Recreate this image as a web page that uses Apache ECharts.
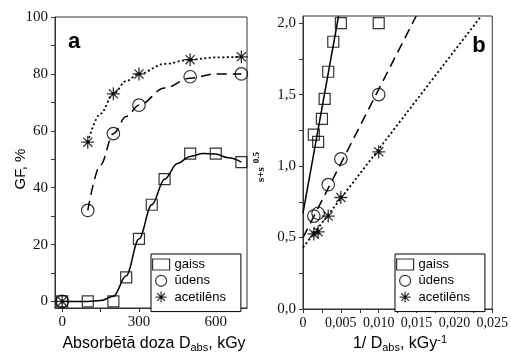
<!DOCTYPE html>
<html>
<head>
<meta charset="utf-8">
<script src="https://cdn.jsdelivr.net/npm/echarts@6/dist/echarts.min.js"></script>
<style>
html,body{margin:0;padding:0;background:#fff;}
#chart{width:511px;height:356px;}
</style>
</head>
<body>
<div id="chart"></div>
<script>
// ---- Panel a: GF vs absorbed dose ----
const seriesNames = ['gaiss', 'ūdens', 'acetilēns'];
const gaissDose = [0, 100, 200, 250, 300, 350, 400, 500, 600, 700];
const gaissGF = [0, 0, 0, 8.5, 22, 34, 43, 52, 52, 49];
const dose = [0, 100, 200, 300, 500, 700];
const udensGF = [0, 32, 59, 69, 79, 80];
const acetGF = [0, 56, 73, 80, 85, 86];
// fitted curves
const gaissCurveX = [0, 100, 150, 200, 250, 300, 350, 400, 450, 500, 550, 600, 650, 700];
const gaissCurveY = [0, 0, 0.3, 1.8, 9, 22, 34, 43, 48.5, 51, 52, 51.8, 50.5, 49];
const udensCurveX = [100, 150, 200, 250, 300, 400, 500, 600, 700];
const udensCurveY = [32, 48, 59, 65, 69, 75, 78.5, 80, 80];
const acetCurveX = [100, 150, 200, 250, 300, 400, 500, 600, 700];
const acetCurveY = [56, 66, 73, 77.5, 80, 83.5, 85, 85.8, 86];
const leftXTicks = [0, 150, 300, 450, 600];
const leftXLabels = [0, 300, 600];
const leftYTicks = [0, 10, 20, 30, 40, 50, 60, 70, 80, 90, 100];
const leftYLabels = [0, 20, 40, 60, 80, 100];

// ---- Panel b: s+s^0.5 vs 1/D ----
const invGaissX = [0.00143, 0.002, 0.0025, 0.00286, 0.00333, 0.004, 0.005, 0.01];
const invGaissY = [1.22, 1.17, 1.33, 1.47, 1.66, 1.87, 2.0, 2.0];
const invDoseX = [0.00143, 0.002, 0.00333, 0.005, 0.01];
const invUdensY = [0.65, 0.67, 0.87, 1.05, 1.50];
const invAcetY = [0.525, 0.54, 0.65, 0.78, 1.10];
const gaissLineX = [0, 0.0047];
const gaissLineY = [0.67, 2.05];
const udensLineX = [0, 0.01495];
const udensLineY = [0.5, 2.05];
const acetLineX = [0, 0.0234];
const acetLineY = [0.43, 2.04];
const rightXTicks = [0, 0.0025, 0.005, 0.0075, 0.01, 0.0125, 0.015, 0.0175, 0.02, 0.0225, 0.025];
const rightXLabels = [0, 0.005, 0.01, 0.015, 0.02, 0.025];
const rightYTicks = [0, 0.25, 0.5, 0.75, 1.0, 1.25, 1.5, 1.75, 2.0];
const rightYLabels = [0, 0.5, 1.0, 1.5, 2.0];

const zip = (xs, ys) => xs.map((x, i) => [x, ys[i]]);
const AST = 'path://M5,0L5,10M0,5L10,5M1.5,1.5L8.5,8.5M1.5,8.5L8.5,1.5M4,4L6,4L6,6L4,6Z';
const SER = 'Liberation Serif, Times New Roman, serif';
const SANS = 'Liberation Sans, Arial, sans-serif';
const AX = '#333';
const hollow = {color: 'rgba(0,0,0,0)', borderColor: '#000', borderWidth: 1.2};
const star = {color: '#000', borderColor: '#000', borderWidth: 1.3};

function axisCommon(min, max, ticks, labels, fmt, fs) {
  return {
    type: 'value', min: min, max: max,
    axisLine: {show: true, onZero: false, lineStyle: {color: AX, width: 1}},
    axisTick: {show: true, length: 4, customValues: ticks, lineStyle: {color: AX}},
    axisLabel: {customValues: labels, formatter: fmt, color: '#111', fontFamily: SER, fontSize: fs || 15, margin: 7},
    splitLine: {show: false}
  };
}

function scatter(name, xi, yi, data, symbol, size, style) {
  return {name: name, type: 'scatter', xAxisIndex: xi, yAxisIndex: yi, data: data,
    symbol: symbol, symbolSize: size, itemStyle: style, z: 5};
}
function line(name, xi, yi, data, type, smooth, w) {
  return {name: name, type: 'line', xAxisIndex: xi, yAxisIndex: yi, data: data,
    showSymbol: false, symbol: 'none', smooth: smooth, smoothMonotone: 'x',
    lineStyle: {color: '#000', width: w || 1.5, type: type}, z: 3, clip: true};
}

function legend(left) {
  return {
    left: left, top: 254, orient: 'vertical',
    data: seriesNames,
    itemWidth: 17, itemHeight: 11, itemGap: 3.3,
    padding: [4, 15, 8, 1],
    borderColor: '#000', borderWidth: 1, backgroundColor: '#fff',
    itemStyle: {borderWidth: 1.2},
    textStyle: {fontFamily: SANS, fontSize: 13, color: '#000', lineHeight: 11},
    selectedMode: false
  };
}

const chart = echarts.init(document.getElementById('chart'), null, {renderer: 'canvas'});
chart.setOption({
  animation: false,
  backgroundColor: '#fff',
  grid: [
    {left: 55, top: 17, width: 192, height: 291, show: true, borderColor: AX, borderWidth: 1, backgroundColor: 'transparent'},
    {left: 303, top: 16, width: 193, height: 293, show: true, borderColor: AX, borderWidth: 1, backgroundColor: 'transparent'}
  ],
  xAxis: [
    Object.assign(axisCommon(-28, 722, leftXTicks, leftXLabels, v => String(v), 15), {gridIndex: 0}),
    Object.assign(axisCommon(0, 0.025, rightXTicks, rightXLabels, v => v === 0 ? '0' : v.toFixed(3).replace('.', ','), 14), {gridIndex: 1})
  ],
  yAxis: [
    Object.assign(axisCommon(-2.3, 100, leftYTicks, leftYLabels, v => String(v), 15), {gridIndex: 0}),
    Object.assign(axisCommon(0, 2.05, rightYTicks, rightYLabels, v => v.toFixed(1).replace('.', ','), 15), {gridIndex: 1})
  ],
  legend: [legend(151), legend(395)],
  series: [
    line('gaiss līkne', 0, 0, zip(gaissCurveX, gaissCurveY), 'solid', 0.35, 1.5),
    line('ūdens līkne', 0, 0, zip(udensCurveX, udensCurveY), [10, 6], 0.35, 1.5),
    line('acetilēns līkne', 0, 0, zip(acetCurveX, acetCurveY), [2, 2.5], 0.35, 1.8),
    scatter('gaiss', 0, 0, zip(gaissDose, gaissGF), 'rect', 11, hollow),
    scatter('ūdens', 0, 0, zip(dose, udensGF), 'circle', 12.5, hollow),
    scatter('acetilēns', 0, 0, zip(dose, acetGF), AST, 13, star),
    line('gaiss taisne', 1, 1, zip(gaissLineX, gaissLineY), 'solid', false, 1.5),
    line('ūdens taisne', 1, 1, zip(udensLineX, udensLineY), [10, 6], false, 1.5),
    line('acetilēns taisne', 1, 1, zip(acetLineX, acetLineY), [2, 2.5], false, 1.8),
    scatter('gaiss', 1, 1, zip(invGaissX, invGaissY), 'rect', 11, hollow),
    scatter('ūdens', 1, 1, zip(invDoseX, invUdensY), 'circle', 12.5, hollow),
    scatter('acetilēns', 1, 1, zip(invDoseX, invAcetY), AST, 13, star)
  ],
  graphic: [
    {type: 'text', x: 74, y: 42, z: 10, style: {text: 'a', fontFamily: SANS, fontWeight: 'bold', fontSize: 22, fill: '#000', align: 'center', verticalAlign: 'middle'}},
    {type: 'text', x: 479, y: 46, z: 10, style: {text: 'b', fontFamily: SANS, fontWeight: 'bold', fontSize: 22, fill: '#000', align: 'center', verticalAlign: 'middle'}},
    {type: 'text', x: 21, y: 169, rotation: Math.PI / 2, z: 10, style: {text: 'GF, %', fontFamily: SANS, fontSize: 15, fill: '#000', align: 'center', verticalAlign: 'middle'}},
    {type: 'text', x: 154, y: 344, z: 10, style: {
      text: 'Absorbētā doza D{sub|abs}, kGy', fontFamily: SANS, fontSize: 16, fill: '#000', align: 'center', verticalAlign: 'middle',
      rich: {sub: {fontFamily: SANS, fontSize: 11, fill: '#000', padding: [8, 0, 0, 0], lineHeight: 11}}}},
    {type: 'text', x: 400, y: 344, z: 10, style: {
      text: '1/ D{sub|abs}, kGy{sup|-1}', fontFamily: SANS, fontSize: 16, fill: '#000', align: 'center', verticalAlign: 'middle',
      rich: {sub: {fontFamily: SANS, fontSize: 11, fill: '#000', padding: [8, 0, 0, 0], lineHeight: 11},
             sup: {fontFamily: SANS, fontSize: 11, fill: '#000', padding: [0, 0, 8, 0], lineHeight: 11}}}},
    {type: 'text', x: 261, y: 167, rotation: Math.PI / 2, z: 10, style: {
      text: 's+s{sup|0.5}', fontFamily: SER, fontWeight: 'bold', fontSize: 11, fill: '#000', align: 'center', verticalAlign: 'middle',
      rich: {sup: {fontFamily: SER, fontWeight: 'bold', fontSize: 9, fill: '#000', padding: [0, 0, 8, 4], lineHeight: 9}}}}
  ]
});
</script>
</body>
</html>
